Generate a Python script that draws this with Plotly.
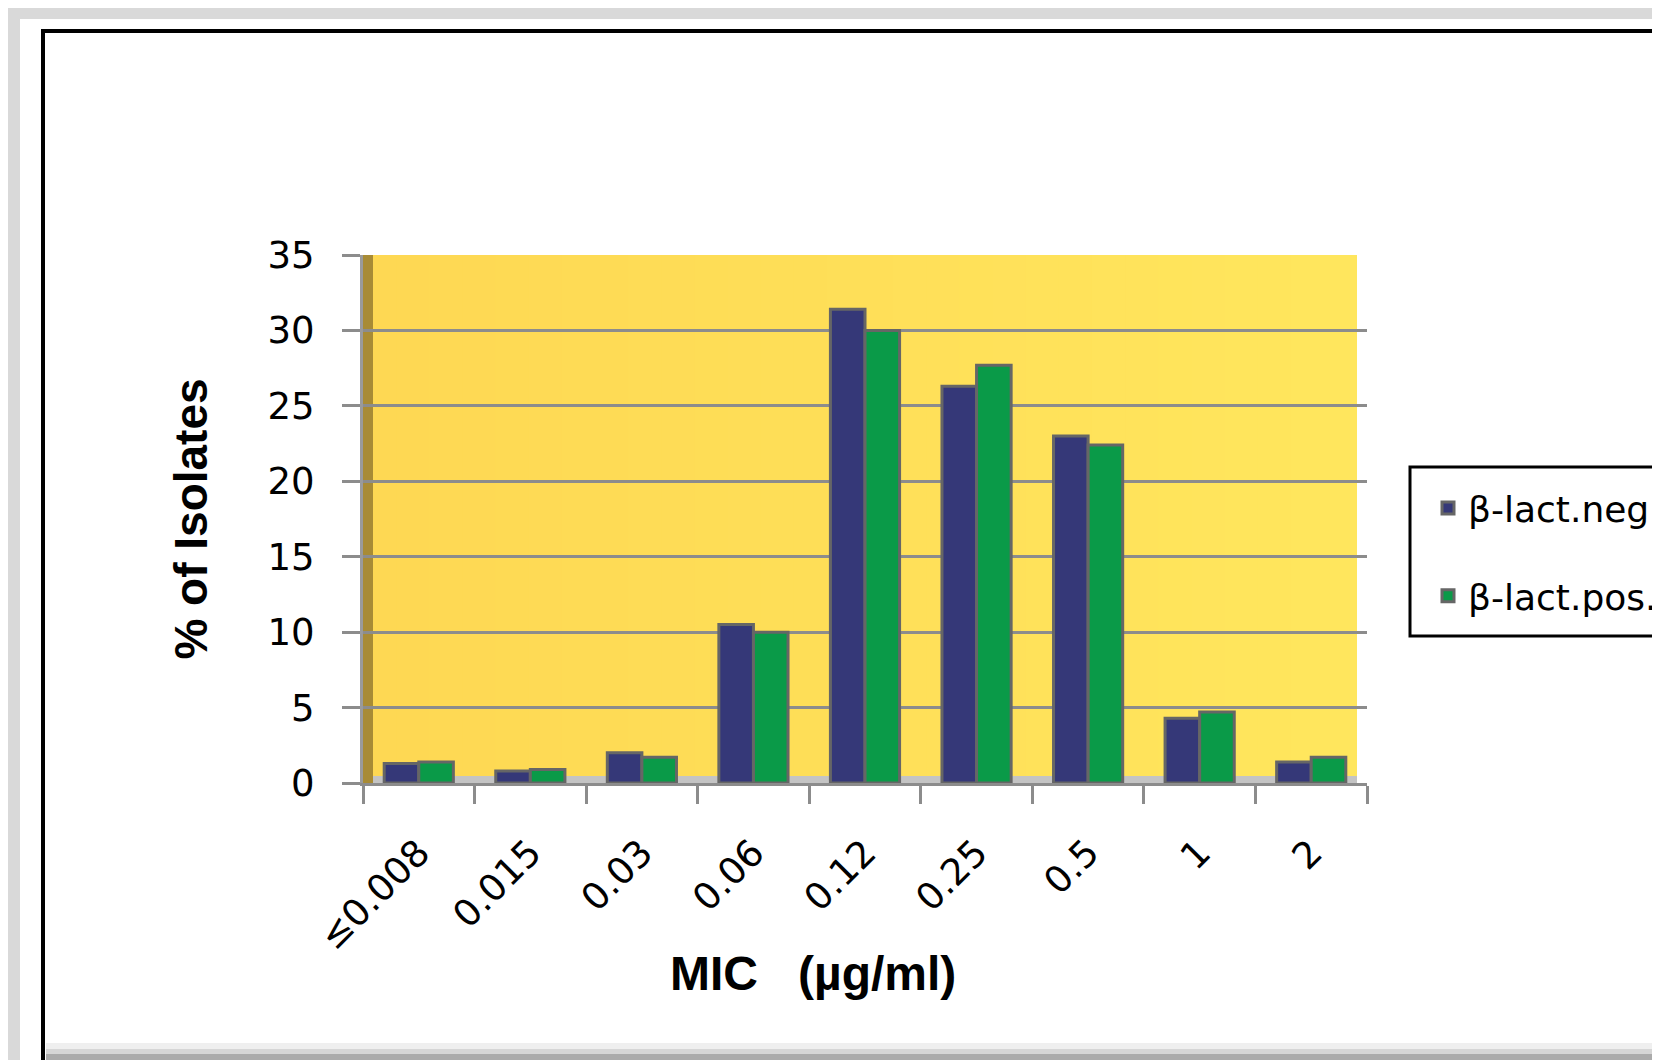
import plotly.graph_objects as go

categories = ["≤0.008", "0.015", "0.03", "0.06", "0.12", "0.25", "0.5", "1", "2"]
neg_values = [1.3, 0.8, 2.0, 10.5, 31.4, 26.3, 23.0, 4.3, 1.4]
pos_values = [1.4, 0.9, 1.7, 10.0, 30.0, 27.7, 22.4, 4.7, 1.7]
series_names = ["β-lact.neg.", "β-lact.pos."]
y_ticks = [0, 5, 10, 15, 20, 25, 30, 35]

# page offset of the figure (browser body margin)
OFF = 8
W, H = 1660, 1060
L, R, T, B = 363 - OFF, 1367 - OFF, 255 - OFF, 783 - OFF
PW, PH = R - L, B - T


def px(x):
    return (x - OFF - L) / PW


def py(y):
    return (B - (y - OFF)) / PH


NEG_COLOR = "#353878"
POS_COLOR = "#0A9A48"
EDGE = "#666666"
GRID = "#8C8C8C"

fig = go.Figure()
fig.add_trace(go.Bar(
    x=categories, y=neg_values, name=series_names[0], legendgroup="a",
    marker=dict(color=NEG_COLOR, line=dict(color=EDGE, width=3)),
))
fig.add_trace(go.Bar(
    x=categories, y=pos_values, name=series_names[1], legendgroup="b",
    marker=dict(color=POS_COLOR, line=dict(color=EDGE, width=3)),
))


def mix(c1, c2, t):
    a = [int(c1[i:i + 2], 16) for i in (1, 3, 5)]
    b = [int(c2[i:i + 2], 16) for i in (1, 3, 5)]
    return "#%02X%02X%02X" % tuple(round(a[k] + (b[k] - a[k]) * t) for k in range(3))


shapes = [
    # white panel
    dict(type="rect", xref="paper", yref="paper", x0=px(20), x1=px(1720), y0=py(19), y1=py(1120),
         fillcolor="white", line=dict(width=0), layer="below"),
    # bottom shading band
    dict(type="rect", xref="paper", yref="paper", x0=px(46), x1=px(1720), y0=py(1043), y1=py(1049),
         fillcolor="#EFEFEF", line=dict(width=0), layer="below"),
    dict(type="rect", xref="paper", yref="paper", x0=px(46), x1=px(1720), y0=py(1049), y1=py(1054),
         fillcolor="#D6D6D6", line=dict(width=0), layer="below"),
    dict(type="rect", xref="paper", yref="paper", x0=px(46), x1=px(1720), y0=py(1054), y1=py(1120),
         fillcolor="#ABABAB", line=dict(width=0), layer="below"),
    # black frame
    dict(type="rect", xref="paper", yref="paper", x0=px(43), x1=px(1720), y0=py(31), y1=py(1120),
         fillcolor="rgba(0,0,0,0)", line=dict(color="black", width=4), layer="below"),
]

# yellow plot area with horizontal gradient
N = 30
right_edge = px(1357)
for i in range(N):
    x0 = right_edge * i / N
    x1 = right_edge * (i + 1) / N + 0.002
    shapes.append(dict(type="rect", xref="paper", yref="paper", x0=x0, x1=min(x1, right_edge), y0=0, y1=1,
                       fillcolor=mix("#FED853", "#FFE65D", i / (N - 1)), line=dict(width=0), layer="below"))

shapes += [
    # left wall
    dict(type="rect", xref="paper", yref="paper", x0=0, x1=px(373), y0=0, y1=1,
         fillcolor="#A88B35", line=dict(width=0), layer="below"),
    # floor
    dict(type="rect", xref="paper", yref="paper", x0=px(373), x1=right_edge, y0=0, y1=py(776),
         fillcolor="#C4C4C4", line=dict(width=0), layer="below"),
    # legend box
    dict(type="rect", xref="paper", yref="paper", x0=px(1410), x1=px(1720), y0=py(467), y1=py(636),
         fillcolor="white", line=dict(color="black", width=3), layer="above"),
]

fig.update_layout(
    width=W, height=H,
    margin=dict(l=L, r=W - R, t=T, b=H - B, autoexpand=False),
    paper_bgcolor="#D9D9D9",
    plot_bgcolor="rgba(0,0,0,0)",
    barmode="group",
    bargap=0.38,
    bargroupgap=0.0,
    shapes=shapes,
    font=dict(family="DejaVu Sans", color="black"),
    xaxis=dict(
        tickangle=-45,
        tickson="boundaries",
        ticks="outside", ticklen=18, tickwidth=3, tickcolor=GRID,
        showline=True, linecolor=GRID, linewidth=3,
        showgrid=False,
        tickfont=dict(family="DejaVu Sans", size=37, color="black"),
        ticklabelstandoff=30,
    ),
    yaxis=dict(
        range=[0, 35],
        tickvals=y_ticks,
        ticks="outside", ticklen=18, tickwidth=3, tickcolor=GRID,
        showline=True, linecolor="#9A9A9A", linewidth=3,
        showgrid=True, gridcolor=GRID, gridwidth=3,
        zeroline=False,
        tickfont=dict(family="DejaVu Sans", size=37, color="black"),
        ticklabelstandoff=20,
        title=dict(text="% of Isolates", standoff=46,
                   font=dict(family="Liberation Sans", size=46, color="black", weight="bold")),
    ),
    annotations=[dict(
        text="<b>MIC   (µg/ml)</b>", xref="paper", yref="paper",
        x=px(813), y=py(973), xanchor="center", yanchor="middle", showarrow=False,
        font=dict(family="Liberation Sans", size=48, color="black"),
    )],
    legend=dict(
        x=px(1428), y=py(478), xanchor="left", yanchor="top",
        bgcolor="rgba(0,0,0,0)", borderwidth=0,
        font=dict(family="DejaVu Sans", size=36, color="black"),
        traceorder="grouped", tracegroupgap=38,
    ),
)

fig.write_html("out.html")
